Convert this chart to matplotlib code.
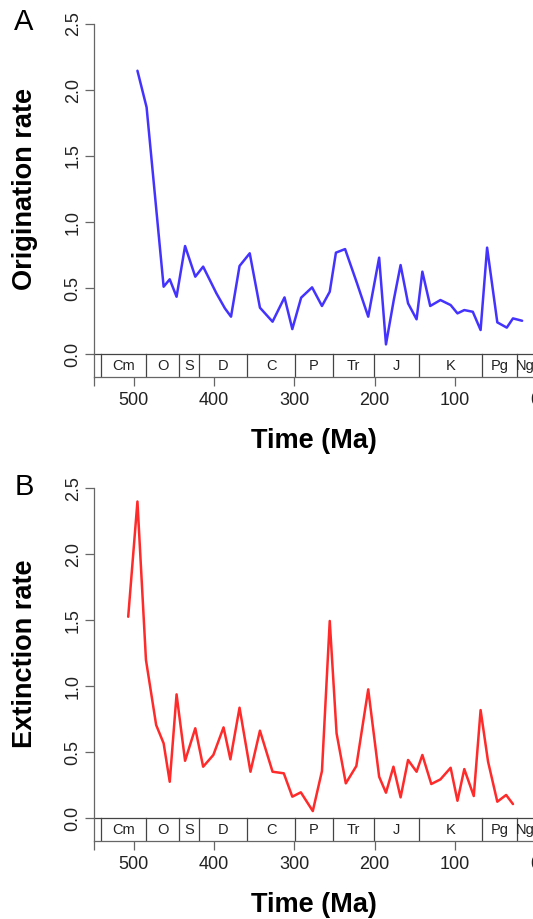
import numpy as np
import matplotlib
matplotlib.use("Agg")
import matplotlib.pyplot as plt

plt.rcParams['font.family'] = ['Liberation Sans', 'DejaVu Sans']

# ---- data ----
orig_age = [495.3, 483.9, 462.7, 455.1, 446.6, 436.0, 423.3, 413.5, 397.0, 386.4,
            378.8, 368.2, 355.5, 342.8, 327.1, 312.2, 302.5, 291.5, 277.9, 265.6,
            255.9, 248.2, 236.8, 221.9, 208.0, 194.4, 185.9, 176.2, 167.7, 158.4,
            147.8, 140.6, 130.8, 118.1, 105.4, 96.9, 88.4, 77.8, 68.1, 60.0,
            47.3, 35.5, 27.8, 16.4]
orig_rate = [2.146, 1.869, 0.51, 0.566, 0.434, 0.818, 0.586, 0.662, 0.46, 0.346,
             0.283, 0.667, 0.763, 0.351, 0.245, 0.429, 0.189, 0.427, 0.505, 0.364,
             0.472, 0.768, 0.795, 0.535, 0.283, 0.73, 0.073, 0.409, 0.674, 0.384,
             0.263, 0.624, 0.364, 0.409, 0.371, 0.308, 0.333, 0.32, 0.182, 0.806,
             0.24, 0.2, 0.27, 0.252]

ext_age = [506.8, 495.3, 484.7, 472.0, 462.7, 455.1, 446.6, 436.0, 423.3, 413.5,
           400.8, 388.1, 379.6, 368.2, 354.6, 342.8, 327.1, 313.1, 302.5, 291.9,
           277.0, 265.6, 255.9, 247.4, 235.9, 222.8, 208.0, 194.4, 185.9, 176.6,
           167.7, 158.4, 147.8, 140.6, 129.5, 118.1, 105.4, 96.9, 88.4, 76.6,
           68.1, 58.8, 47.3, 36.3, 27.8]
ext_rate = [1.527, 2.40, 1.2, 0.707, 0.568, 0.277, 0.939, 0.436, 0.682, 0.391,
            0.48, 0.689, 0.447, 0.838, 0.353, 0.664, 0.353, 0.341, 0.164, 0.197,
            0.055, 0.358, 1.495, 0.644, 0.265, 0.396, 0.977, 0.315, 0.194, 0.391,
            0.159, 0.442, 0.353, 0.48, 0.26, 0.295, 0.383, 0.133, 0.373, 0.169,
            0.82, 0.429, 0.126, 0.177, 0.108]

# geologic periods (Ma)
period_names = ['Cm', 'O', 'S', 'D', 'C', 'P', 'Tr', 'J', 'K', 'Pg', 'Ng']
period_start = [541, 485, 443, 419, 359, 299, 252, 201, 145, 66, 23]
period_end = [485, 443, 419, 359, 299, 252, 201, 145, 66, 23, 2.6]

W, H = 533, 919
fig = plt.figure(figsize=(W/100, H/100), dpi=100)

ybot = -0.174
gray = '#666666'
boxc = '#444444'


def panel(top_px, zero_px, age, rate, color, ylab, letter):
	bottom_px = zero_px + 23
	left_px, right_px = 93.5, 535.3
	ax = fig.add_axes([left_px/W, 1 - bottom_px/H, (right_px-left_px)/W, (bottom_px-top_px)/H])
	ax.set_xlim(550, 0)
	ax.set_ylim(ybot, 2.5)

	ax.plot(age, rate, color=color, lw=1.8, solid_joinstyle='round', solid_capstyle='round')

	# timescale strip below zero
	ax.plot([550, -20], [0, 0], color=boxc, lw=0.9, clip_on=False)
	for s in period_start:
		ax.plot([s, s], [ybot, 0], color=boxc, lw=0.9)
	for n, s, e in zip(period_names, period_start, period_end):
		ax.text((s+e)/2.0, ybot/2.0, n, ha='center', va='center', fontsize=10.5, color='#222222')

	for side in ['top', 'right']:
		ax.spines[side].set_visible(False)
	for side in ['left', 'bottom']:
		ax.spines[side].set_color(gray)
		ax.spines[side].set_linewidth(0.9)

	ax.set_yticks([0, 0.5, 1.0, 1.5, 2.0, 2.5])
	ax.set_yticklabels(['0.0', '0.5', '1.0', '1.5', '2.0', '2.5'])
	ax.set_xticks([550, 500, 400, 300, 200, 100, 0])
	ax.set_xticklabels(['', '500', '400', '300', '200', '100', '0'])
	ax.tick_params(axis='both', color=gray, length=6.5, width=0.9, labelsize=13, labelcolor='#222222')
	ax.tick_params(axis='y', pad=2)
	ax.tick_params(axis='x', pad=4)
	for lab in ax.get_yticklabels():
		lab.set_rotation(90)
		lab.set_va('center')

	ax.set_xlabel('Time (Ma)', fontsize=19.5, fontweight='bold')
	ax.xaxis.label.set_va('center')
	ax.xaxis.set_label_coords(0.5, (bottom_px - (zero_px + 87))/(bottom_px - top_px))
	ax.set_ylabel(ylab, fontsize=19.5, fontweight='bold')
	ax.yaxis.label.set_va('center')
	ax.yaxis.set_label_coords((25 - left_px)/(right_px - left_px), (1.25 - ybot)/(2.5 - ybot))

	fig.text(24/W, 1 - (top_px - 1.5)/H, letter, fontsize=21, ha='center', va='center')
	return ax


panel(24, 354, orig_age, orig_rate, '#4433FF', 'Origination rate', 'A')
panel(488.3, 818.3, ext_age, ext_rate, '#FF2A2A', 'Extinction rate', 'B')

fig.savefig('out.png', dpi=100)
